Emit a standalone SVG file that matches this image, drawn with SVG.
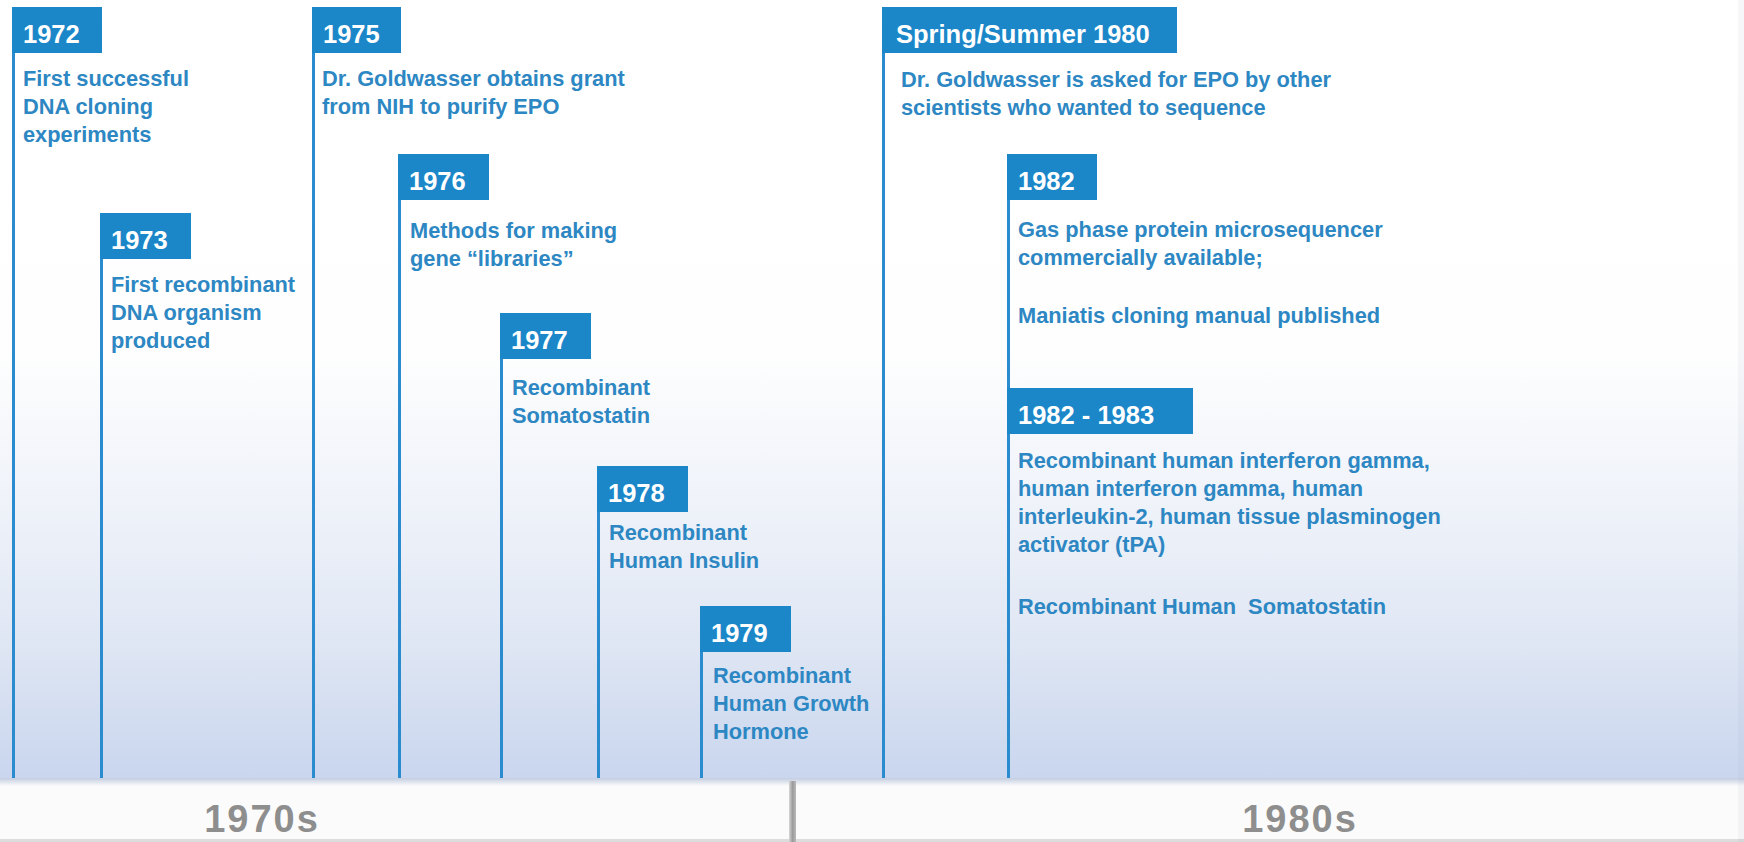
<svg xmlns="http://www.w3.org/2000/svg" width="1744" height="842" viewBox="0 0 1744 842">
  <defs>
    <linearGradient id="sky" x1="0" y1="0" x2="0" y2="1">
      <stop offset="0" stop-color="#ffffff"/>
      <stop offset="0.45" stop-color="#fefefe"/>
      <stop offset="0.62" stop-color="#f1f4fa"/>
      <stop offset="0.82" stop-color="#e0e7f4"/>
      <stop offset="1" stop-color="#c9d6ee"/>
    </linearGradient>
    <linearGradient id="bandShade" x1="0" y1="0" x2="0" y2="1">
      <stop offset="0" stop-color="#c3cde0"/>
      <stop offset="1" stop-color="#fbfbfb"/>
    </linearGradient>
    <linearGradient id="divider" x1="0" y1="0" x2="1" y2="0">
      <stop offset="0" stop-color="#d6d6d6"/>
      <stop offset="0.5" stop-color="#9c9c9c"/>
      <stop offset="1" stop-color="#b8b8b8"/>
    </linearGradient>
    <style>
      .box { fill: #1b87c9; }
      .stem { stroke: #2a8bcf; stroke-width: 3; fill: none; }
      .yr { fill: #ffffff; font-family: "Liberation Sans", Arial, sans-serif; font-weight: bold; font-size: 25.5px; }
      .desc { fill: #2d87c3; font-family: "Liberation Sans", Arial, sans-serif; font-weight: bold; font-size: 21.8px; white-space: pre; }
      .decade { fill: #8e8e8e; font-family: "Liberation Sans", Arial, sans-serif; font-weight: bold; font-size: 38px; letter-spacing: 2px; text-anchor: middle; }
    </style>
  </defs>

  <!-- background: white sky fading to pale blue, then the decade band -->
  <rect x="0" y="0" width="1744" height="778" fill="url(#sky)"/>
  <rect x="0" y="778" width="1744" height="64" fill="#fbfbfb"/>
  <rect x="0" y="778" width="1744" height="8" fill="url(#bandShade)"/>
  <rect x="0" y="839" width="1744" height="3" fill="#dcdcdc"/>
  <rect x="1738" y="0" width="6" height="842" fill="#8a9ab5" opacity="0.08"/>
  <rect x="789" y="781" width="7" height="61" fill="url(#divider)"/>

  <!-- stems running from each date flag down to the band -->
  <g id="connectors">
    <line class="stem" x1="13.5" y1="7" x2="13.5" y2="778"/>
    <line class="stem" x1="101.5" y1="213" x2="101.5" y2="778"/>
    <line class="stem" x1="313.5" y1="7" x2="313.5" y2="778"/>
    <line class="stem" x1="399.5" y1="154" x2="399.5" y2="778"/>
    <line class="stem" x1="501.5" y1="313" x2="501.5" y2="778"/>
    <line class="stem" x1="598.5" y1="466" x2="598.5" y2="778"/>
    <line class="stem" x1="701.5" y1="606" x2="701.5" y2="778"/>
    <line class="stem" x1="883.5" y1="7" x2="883.5" y2="778"/>
    <line class="stem" x1="1008.5" y1="154" x2="1008.5" y2="778"/>
  </g>

  <g id="e1972">
    <rect class="box" x="12" y="7" width="90" height="46"/>
    <text class="yr" x="23" y="43">1972</text>
    <text class="desc" x="23" y="86">First successful</text>
    <text class="desc" x="23" y="114">DNA cloning</text>
    <text class="desc" x="23" y="142">experiments</text>
  </g>

  <g id="e1973">
    <rect class="box" x="100" y="213" width="91" height="46"/>
    <text class="yr" x="111" y="249">1973</text>
    <text class="desc" x="111" y="292">First recombinant</text>
    <text class="desc" x="111" y="320">DNA organism</text>
    <text class="desc" x="111" y="348">produced</text>
  </g>

  <g id="e1975">
    <rect class="box" x="312" y="7" width="89" height="46"/>
    <text class="yr" x="323" y="43">1975</text>
    <text class="desc" x="322" y="86">Dr. Goldwasser obtains grant</text>
    <text class="desc" x="322" y="114">from NIH to purify EPO</text>
  </g>

  <g id="e1976">
    <rect class="box" x="398" y="154" width="91" height="46"/>
    <text class="yr" x="409" y="190">1976</text>
    <text class="desc" x="410" y="238">Methods for making</text>
    <text class="desc" x="410" y="266">gene “libraries”</text>
  </g>

  <g id="e1977">
    <rect class="box" x="500" y="313" width="91" height="46"/>
    <text class="yr" x="511" y="349">1977</text>
    <text class="desc" x="512" y="395">Recombinant</text>
    <text class="desc" x="512" y="423">Somatostatin</text>
  </g>

  <g id="e1978">
    <rect class="box" x="597" y="466" width="91" height="46"/>
    <text class="yr" x="608" y="502">1978</text>
    <text class="desc" x="609" y="540">Recombinant</text>
    <text class="desc" x="609" y="568">Human Insulin</text>
  </g>

  <g id="e1979">
    <rect class="box" x="700" y="606" width="91" height="46"/>
    <text class="yr" x="711" y="642">1979</text>
    <text class="desc" x="713" y="683">Recombinant</text>
    <text class="desc" x="713" y="711">Human Growth</text>
    <text class="desc" x="713" y="739">Hormone</text>
  </g>

  <g id="e1980">
    <rect class="box" x="882" y="7" width="295" height="46"/>
    <text class="yr" x="896" y="43">Spring/Summer 1980</text>
    <text class="desc" x="901" y="87">Dr. Goldwasser is asked for EPO by other</text>
    <text class="desc" x="901" y="115">scientists who wanted to sequence</text>
  </g>

  <g id="e1982">
    <rect class="box" x="1007" y="154" width="90" height="46"/>
    <text class="yr" x="1018" y="190">1982</text>
    <text class="desc" x="1018" y="237">Gas phase protein microsequencer</text>
    <text class="desc" x="1018" y="265">commercially available;</text>
    <text class="desc" x="1018" y="323">Maniatis cloning manual published</text>
  </g>

  <g id="e1982-1983">
    <rect class="box" x="1007" y="388" width="186" height="46"/>
    <text class="yr" x="1018" y="424">1982 - 1983</text>
    <text class="desc" x="1018" y="468">Recombinant human interferon gamma,</text>
    <text class="desc" x="1018" y="496">human interferon gamma, human</text>
    <text class="desc" x="1018" y="524">interleukin-2, human tissue plasminogen</text>
    <text class="desc" x="1018" y="552">activator (tPA)</text>
    <text class="desc" x="1018" y="614">Recombinant Human  Somatostatin</text>
  </g>

  <g id="decades">
    <text class="decade" x="262" y="832">1970s</text>
    <text class="decade" x="1300" y="832">1980s</text>
  </g>
</svg>
